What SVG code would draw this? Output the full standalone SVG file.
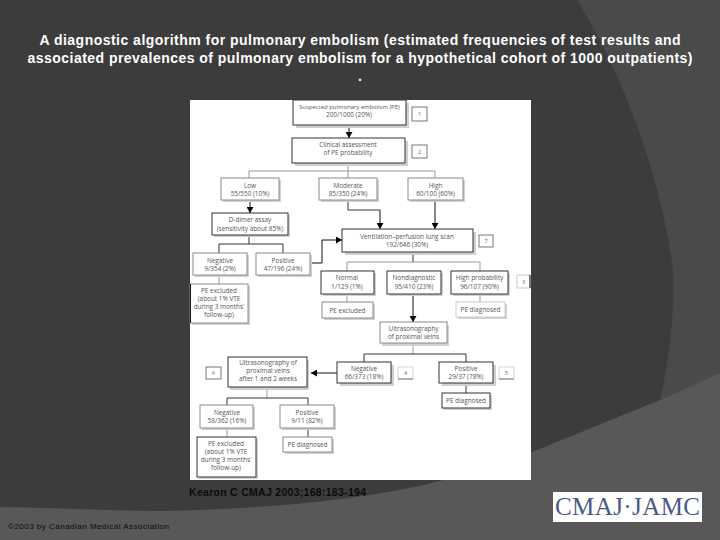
<svg xmlns="http://www.w3.org/2000/svg" width="720" height="540" viewBox="0 0 720 540">
<style>
.title{font:bold 14px "Liberation Sans",Arial,sans-serif;fill:#fff;text-anchor:middle}
.t{font:6.4px "Open Sans","Liberation Sans",sans-serif;fill:#555;text-anchor:middle}
.n{font:5.5px "Open Sans","Liberation Sans",sans-serif;fill:#666;text-anchor:middle}
.s{fill:#d0d0d0}
.b{fill:#fff;stroke:#333;stroke-width:1}
.l{fill:#fff;stroke:#8a8a8a;stroke-width:1}
.k{fill:#fff;stroke:#555;stroke-width:.8}
.c{fill:none;stroke:#333;stroke-width:1}
.g{fill:none;stroke:#999;stroke-width:1}
.a{fill:none;stroke:#111;stroke-width:1;marker-end:url(#arrow)}
</style>
<defs>
<marker id="arrow" markerUnits="userSpaceOnUse" markerWidth="7" markerHeight="7" refX="6" refY="3.5" orient="auto"><path d="M0 0L6 3.5L0 7Z" fill="#000"/></marker>
</defs>
<g id="background">
<rect width="720" height="540" fill="#3c3c3c"/>
<path d="M577 0C615 60 660 165 673 270C675 320 668 365 660 400L720 373V0Z" fill="#4a4a4a"/>
<path d="M0 507C60 508 120 511 167 511C260 509 370 500 443 480C480 470 510 460 532 452L660 400L720 373V540H0Z" fill="#585858"/>
</g>
<rect id="figure" x="190" y="100" width="341" height="380" fill="#fff"/>
<g id="connectors">
<path class="a" d="M349 125V138"/>
<path class="g" d="M348 163V171M249 171H435M249 171V178M348 171V178M435 171V178"/>
<path class="a" d="M250 200V213"/>
<path class="c" d="M348 200V210H380"/>
<path class="a" d="M380 210V229"/>
<path class="a" d="M435 200V229"/>
<path class="c" d="M249 235V244M219 244H283M219 244V253M283 244V253"/>
<path class="g" d="M219 275V284"/>
<path class="a" d="M310 263H322V240H342"/>
<path class="c" d="M413 252V262"/>
<path class="g" d="M347 262H480M347 262V271M480 262V271"/>
<path class="g" d="M347 294V302M480 294V302"/>
<path class="a" d="M413 294V322"/>
<path class="g" d="M413 343V354"/>
<path class="c" d="M364 354H466M364 354V362M466 354V362M466 383V393"/>
<path class="a" d="M337 373H311"/>
<path class="g" d="M267 387V398"/>
<path class="c" d="M227 398H308M227 398V405M308 398V405M308 428V437"/>
<path class="g" d="M227 428V437"/>
</g>
<g id="n1"><rect class="s" x="296" y="103" width="113" height="25"/><rect class="b" x="293" y="100" width="113" height="25" stroke-width="1.3"/><text class="t" x="349.500" y="109" style="font-size:5.900px">Suspected pulmonary embolism (PE)</text><text class="t" x="349" y="117">200/1000 (20%)</text></g>
<g id="k1"><rect class="k" x="412" y="107" width="15" height="14"/><text class="n" x="419.500" y="116">1</text></g>
<g id="n2"><rect class="s" x="295" y="141" width="113" height="25"/><rect class="b" x="292" y="138" width="113" height="25"/><text class="t" x="348" y="147">Clinical assessment</text><text class="t" x="348" y="155">of PE probability</text></g>
<g id="k2"><rect class="k" x="412" y="145" width="15" height="13"/><text class="n" x="419.500" y="154">2</text></g>
<g id="low"><rect class="s" x="223" y="180" width="58" height="22"/><rect class="l" x="221" y="178" width="58" height="22"/><text class="t" x="250" y="188">Low</text><text class="t" x="250" y="196">55/550 (10%)</text></g>
<g id="moderate"><rect class="s" x="321" y="180" width="58" height="22"/><rect class="l" x="319" y="178" width="58" height="22"/><text class="t" x="348" y="188">Moderate</text><text class="t" x="348" y="196">85/350 (24%)</text></g>
<g id="high"><rect class="s" x="410" y="180" width="55" height="22"/><rect class="l" x="408" y="178" width="55" height="22"/><text class="t" x="435.500" y="188">High</text><text class="t" x="435.500" y="196">60/100 (60%)</text></g>
<g id="ddimer"><rect class="s" x="214" y="215" width="76" height="22"/><rect class="b" x="212" y="213" width="76" height="22"/><text class="t" x="250" y="222">D-dimer assay</text><text class="t" x="250" y="230.500">(sensitivity about 85%)</text></g>
<g id="vq"><rect class="s" x="345" y="232" width="131" height="23"/><rect class="b" x="342" y="229" width="131" height="23"/><text class="t" x="407" y="239">Ventilation–perfusion lung scan</text><text class="t" x="407" y="247">192/646 (30%)</text></g>
<g id="k7"><rect class="k" x="479" y="235" width="14" height="12"/><text class="n" x="486" y="243">7</text></g>
<g id="neg1"><rect class="s" x="195" y="255" width="54" height="22"/><rect class="l" x="193" y="253" width="54" height="22"/><text class="t" x="220" y="262.500">Negative</text><text class="t" x="220" y="270.500">9/354 (2%)</text></g>
<g id="pos1"><rect class="s" x="258" y="255" width="54" height="22"/><rect class="l" x="256" y="253" width="54" height="22"/><text class="t" x="283" y="262.500">Positive</text><text class="t" x="283" y="270.500">47/196 (24%)</text></g>
<g id="excl1"><rect class="s" x="192" y="286" width="58" height="39"/><rect class="l" x="190" y="284" width="58" height="39"/><path d="M190.500 284V323" stroke="#111" stroke-width="1"/><text class="t" x="219" y="293">PE excluded</text><text class="t" x="219" y="301">(about 1% VTE</text><text class="t" x="219" y="309">during 3 months'</text><text class="t" x="219" y="317">follow-up)</text></g>
<g id="normal"><rect class="s" x="323" y="273" width="53" height="23"/><rect class="b" x="321" y="271" width="53" height="23"/><text class="t" x="347" y="280">Normal</text><text class="t" x="347" y="288.500">1/129 (1%)</text></g>
<g id="nondiag"><rect class="s" x="389" y="273" width="54" height="23"/><rect class="b" x="387" y="271" width="54" height="23"/><text class="t" x="414" y="280">Nondiagnostic</text><text class="t" x="414" y="288.500">95/410 (23%)</text></g>
<g id="highprob"><rect class="s" x="453" y="273" width="57" height="23"/><rect class="b" x="451" y="271" width="57" height="23"/><text class="t" x="479.500" y="280">High probability</text><text class="t" x="479.500" y="288.500">96/107 (90%)</text></g>
<g id="k3"><rect class="k" x="517" y="275" width="13" height="13" style="stroke:#bbb"/><path d="M530 275V288" stroke="#111"/><text class="n" x="523.500" y="284">3</text></g>
<g id="excl2"><rect class="s" x="324" y="304" width="51" height="16"/><rect class="l" x="322" y="302" width="51" height="16"/><text class="t" x="347.500" y="312.500">PE excluded</text></g>
<g id="diag1"><rect class="s" x="458" y="304" width="49" height="15"/><rect x="456" y="302" width="49" height="15" fill="#fff" stroke="#ccc"/><text class="t" x="480.500" y="312">PE diagnosed</text></g>
<g id="us1"><rect class="s" x="382" y="325" width="67" height="21"/><rect class="l" x="380" y="322" width="67" height="21"/><text class="t" x="413.500" y="330.500">Ultrasonography</text><text class="t" x="413.500" y="338.500">of proximal veins</text></g>
<g id="neg2"><rect class="s" x="340" y="365" width="54" height="21"/><rect class="b" x="337" y="362" width="54" height="21"/><text class="t" x="364" y="370.500">Negative</text><text class="t" x="364" y="378.500">66/373 (18%)</text></g>
<g id="k4"><rect class="k" x="398" y="367" width="15" height="12" style="stroke:#ccc"/><path d="M398 379H413" stroke="#777"/><text class="n" x="405.500" y="375">4</text></g>
<g id="pos2"><rect class="s" x="442" y="365" width="54" height="21"/><rect class="b" x="439" y="362" width="54" height="21"/><text class="t" x="466" y="370.500">Positive</text><text class="t" x="466" y="378.500">29/37 (78%)</text></g>
<g id="k5"><rect class="k" x="499" y="367" width="15" height="12" style="stroke:#ccc"/><path d="M499 379H514" stroke="#777"/><text class="n" x="506.500" y="375">5</text></g>
<g id="diag2"><rect class="s" x="444" y="395" width="48" height="15"/><rect class="b" x="442" y="393" width="48" height="15"/><text class="t" x="466" y="402.500">PE diagnosed</text></g>
<g id="us2"><rect class="s" x="230" y="360" width="79" height="30"/><rect class="b" x="228" y="357" width="79" height="30"/><text class="t" x="268" y="365">Ultrasonography of</text><text class="t" x="268" y="373">proximal veins</text><text class="t" x="268" y="381">after 1 and 2 weeks</text></g>
<g id="k6"><rect class="k" x="206" y="367" width="15" height="12"/><text class="n" x="213.500" y="375">6</text></g>
<g id="neg3"><rect class="s" x="202" y="407" width="53" height="23"/><rect class="l" x="200" y="405" width="53" height="23"/><text class="t" x="227" y="415">Negative</text><text class="t" x="227" y="423">58/362 (16%)</text></g>
<g id="pos3"><rect class="s" x="282" y="407" width="54" height="23"/><rect class="l" x="280" y="405" width="54" height="23"/><text class="t" x="307" y="415">Positive</text><text class="t" x="307" y="423">9/11 (82%)</text></g>
<g id="excl3"><rect class="s" x="199" y="439" width="59" height="40"/><rect class="b" x="197" y="437" width="59" height="40"/><text class="t" x="226" y="445.500">PE excluded</text><text class="t" x="226" y="453.500">(about 1% VTE</text><text class="t" x="226" y="461.500">during 3 months'</text><text class="t" x="226" y="469.500">follow-up)</text></g>
<g id="diag3"><rect class="s" x="285" y="439" width="49" height="15"/><rect class="l" x="283" y="437" width="49" height="15"/><text class="t" x="307.500" y="446.500">PE diagnosed</text></g>
<g id="title">
<text class="title" x="360" y="45" textLength="641" lengthAdjust="spacing">A diagnostic algorithm for pulmonary embolism (estimated frequencies of test results and</text>
<text class="title" x="360" y="63" textLength="665" lengthAdjust="spacing">associated prevalences of pulmonary embolism for a hypothetical cohort of 1000 outpatients)</text>
<text class="title" x="360" y="81">.</text>
</g>
<text id="citation" x="189" y="496" textLength="177" lengthAdjust="spacing" font-family="'Liberation Sans',Arial,sans-serif" font-size="10.500" font-weight="bold" fill="#0a0a0a">Kearon C CMAJ 2003;168:183-194</text>
<text id="copyright" x="8" y="529" textLength="161" lengthAdjust="spacing" font-family="'Liberation Sans',Arial,sans-serif" font-size="8" fill="#0a0a0a">©2003 by Canadian Medical Association</text>
<g id="logo"><rect x="553" y="492" width="149" height="30" fill="#fff"/><text x="555" y="515" font-family="'Liberation Serif','Times New Roman',serif" font-size="25" textLength="145" lengthAdjust="spacing" fill="#4a5a85">CMAJ·JAMC</text></g>
</svg>
